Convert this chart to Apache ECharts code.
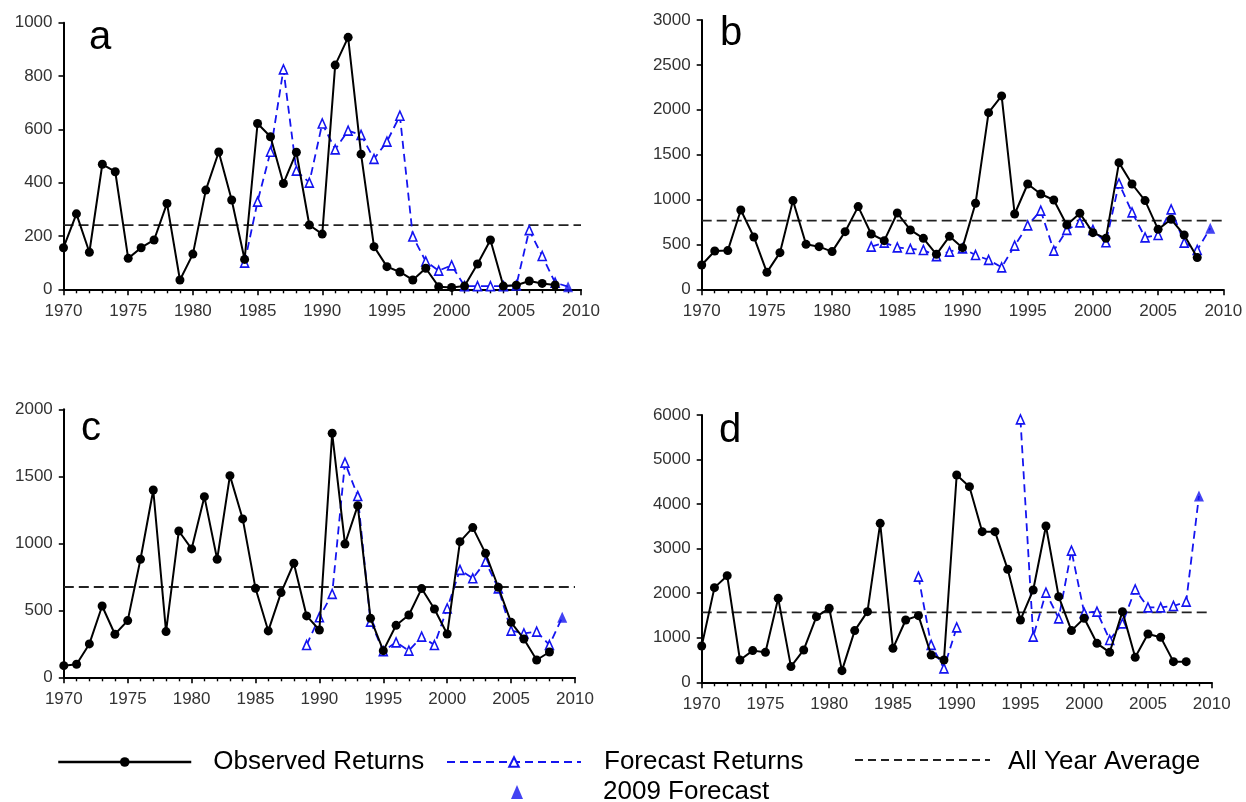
<!DOCTYPE html>
<html>
<head>
<meta charset="utf-8">
<script src="https://cdn.jsdelivr.net/npm/echarts@6/dist/echarts.min.js"></script>
<style>
  html, body { margin: 0; padding: 0; background: #fff; }
  #chart { width: 1246px; height: 802px; }
</style>
</head>
<body>
<div id="chart"></div>
<script>
// Annual returns, 1970-2008 (observed), forecasts and all-year averages per stock
const firstYear = 1970;
const lastYear = 2010;

// Panel a
const obsA = [156, 283, 139, 469, 441, 116, 156, 185, 322, 35,
              132, 372, 515, 335, 112, 622, 572, 397, 514, 241,
              207, 841, 945, 507, 160, 85, 65, 35, 79, 10,
              7, 12, 95, 185, 12, 15, 31, 22, 16];
const fcStartA = 1984;
const fcA = [100, 329, 516, 825, 445, 400, 622, 525, 595, 579, 489, 554, 651,
             198, 105, 70, 90, 12, 12, 12, 12, 15, 222, 125, 25];
const fc2009A = 10;
const avgA = 241;

// Panel b
const obsB = [271, 427, 431, 884, 583, 189, 408, 988, 501, 475,
              420, 642, 921, 616, 542, 850, 661, 568, 390, 590,
              464, 958, 1968, 2154, 839, 1173, 1062, 995, 717, 847,
              631, 568, 1411, 1173, 988, 668, 780, 605, 353];
const fcStartB = 1983;
const fcB = [475, 520, 468, 449, 438, 370, 420, 457, 382, 327, 245, 486, 713,
             876, 431, 661, 746, 661, 524, 1181, 858, 579, 605, 891, 520, 438];
const fc2009B = 680;
const avgB = 765;

// Panel c
const obsC = [87, 97, 249, 532, 321, 423, 881, 1398, 341, 1092,
              958, 1348, 881, 1505, 1182, 664, 346, 632, 851, 458,
              353, 1821, 995, 1281, 440, 199, 388, 465, 662, 510,
              323, 1012, 1117, 925, 672, 410, 286, 129, 189];
const fcStartC = 1989;
const fcC = [241, 448, 622, 1602, 1353, 415, 195, 261, 199, 303, 241, 515,
             801, 739, 863, 664, 348, 328, 341, 241];
const fc2009C = 448;
const avgC = 674;

// Panel d
const obsD = [815, 2125, 2394, 501, 711, 673, 1885, 352, 726, 1474,
              1661, 262, 1160, 1586, 3568, 763, 1399, 1496, 613, 501,
              4653, 4391, 3381, 3381, 2536, 1399, 2072, 3509, 1923, 1160,
              1436, 875, 673, 1586, 561, 1085, 1010, 464, 464];
const fcStartD = 1987;
const fcD = [2371, 838, 314, 1234, null, null, null, null, 5902, 1025, 2012,
             1436, 2955, 1560, 1586, 950, 1324, 2087, 1683, 1683, 1713, 1810];
const fc2009D = 4182;
const avgD = 1571;

// Axis limits and tick steps
const yMax = [1000, 3000, 2000, 6000];
const yStep = [200, 500, 500, 1000];
const panelLetters = ['a', 'b', 'c', 'd'];

const panels = [
  { obs: obsA, fcStart: fcStartA, fc: fcA, fc2009: fc2009A, avg: avgA },
  { obs: obsB, fcStart: fcStartB, fc: fcB, fc2009: fc2009B, avg: avgB },
  { obs: obsC, fcStart: fcStartC, fc: fcC, fc2009: fc2009C, avg: avgC },
  { obs: obsD, fcStart: fcStartD, fc: fcD, fc2009: fc2009D, avg: avgD }
];

// Plot-area boxes (px)
const grids = [
  { left: 63.5, top: 22.7, width: 517.5, height: 266.6 },
  { left: 701.7, top: 20, width: 521.6, height: 269.3 },
  { left: 63.8, top: 409.3, width: 511.2, height: 268 },
  { left: 701.7, top: 415, width: 510, height: 267.3 }
];
// panel letter placement: [left, top]
const letterPos = [[89, 18], [720, 14], [81, 409], [719, 411]];

const BLUE = '#1414f0';
const FONT = 'Liberation Sans, Arial, sans-serif';

const xAxes = [], yAxes = [], series = [], graphics = [];

panels.forEach((p, i) => {
  xAxes.push({
    type: 'value', gridIndex: i, min: firstYear, max: lastYear, interval: 5,
    axisLine: { lineStyle: { color: '#000', width: 2 } },
    axisTick: { length: 6, lineStyle: { color: '#000', width: 1.6 } },
    minorTick: { show: true, splitNumber: 5, length: 4, lineStyle: { color: '#000', width: 1.4 } },
    splitLine: { show: false },
    axisLabel: { fontSize: 17, color: '#333', fontFamily: FONT, margin: 14, formatter: v => String(v) }
  });
  yAxes.push({
    type: 'value', gridIndex: i, min: 0, max: yMax[i], interval: yStep[i],
    axisLine: { show: true, lineStyle: { color: '#000', width: 2 } },
    axisTick: { show: true, length: 5, lineStyle: { color: '#000', width: 1.6 } },
    splitLine: { show: false },
    axisLabel: { fontSize: 17, color: '#333', fontFamily: FONT, margin: 11, formatter: v => String(v) }
  });

  // all-year average
  series.push({
    name: 'All Year Average', type: 'line', xAxisIndex: i, yAxisIndex: i,
    data: [[firstYear, p.avg], [lastYear, p.avg]],
    symbol: 'none', silent: true, z: 1,
    lineStyle: { color: '#222', width: 1.8, type: [10, 5] },
    itemStyle: { color: '#222' }
  });

  // forecast returns, dashed, joined to the 2009 forecast
  const fcData = p.fc.map((v, k) => [p.fcStart + k, v === null ? '-' : v]);
  fcData.push({ value: [2009, p.fc2009], symbol: 'none' });
  series.push({
    name: 'Forecast Returns', type: 'line', xAxisIndex: i, yAxisIndex: i,
    data: fcData, connectNulls: false, z: 2,
    symbol: 'triangle', symbolSize: [8, 9], showAllSymbol: true,
    lineStyle: { color: BLUE, width: 1.8, type: [8, 5] },
    itemStyle: { color: '#fff', borderColor: BLUE, borderWidth: 1.6 }
  });

  // observed returns
  series.push({
    name: 'Observed Returns', type: 'line', xAxisIndex: i, yAxisIndex: i,
    data: p.obs.map((v, k) => [firstYear + k, v]), z: 3,
    symbol: 'circle', symbolSize: 9, showAllSymbol: true,
    lineStyle: { color: '#000', width: 2 },
    itemStyle: { color: '#000' }
  });

  // 2009 forecast point
  series.push({
    name: '2009 Forecast', type: 'scatter', xAxisIndex: i, yAxisIndex: i,
    data: [[2009, p.fc2009]], z: 4,
    symbol: 'triangle', symbolSize: [10, 11],
    itemStyle: { color: BLUE }
  });

  graphics.push({
    type: 'text', left: letterPos[i][0], top: letterPos[i][1],
    style: { text: panelLetters[i], font: '40px ' + FONT, fill: '#000' }
  });
});

const legendText = { fontSize: 26, color: '#000', fontFamily: FONT };
const legends = [
  { data: ['Observed Returns'], left: 57, top: 749, itemWidth: 133, itemHeight: 12,
    lineStyle: { width: 2.5 },
    textStyle: Object.assign({ padding: [0, 0, 0, 17] }, legendText) },
  { data: ['Forecast Returns'], left: 446, top: 749, itemWidth: 134, itemHeight: 12,
    textStyle: Object.assign({ padding: [0, 0, 0, 18] }, legendText) },
  // the key's dashed stroke for this entry is drawn as a graphic line below
  { data: [{ name: 'All Year Average', icon: 'rect' }], left: 855, top: 749,
    itemWidth: 135, itemHeight: 12, itemStyle: { opacity: 0 },
    textStyle: Object.assign({ padding: [0, 0, 0, 13] }, legendText) },
  { data: [{ name: '2009 Forecast', icon: 'triangle' }], left: 511, top: 779, itemWidth: 12, itemHeight: 14,
    textStyle: Object.assign({ padding: [0, 0, 0, 75] }, legendText) }
].map(l => Object.assign({ orient: 'horizontal', padding: 0, selectedMode: false }, l));

graphics.push({
  type: 'line', silent: true,
  shape: { x1: 855, y1: 760, x2: 990, y2: 760 },
  style: { stroke: '#222', lineWidth: 2, lineDash: [8, 5] }
});

const chart = echarts.init(document.getElementById('chart'), null, { renderer: 'canvas' });
chart.setOption({
  backgroundColor: '#fff',
  animation: false,
  grid: grids.map(g => Object.assign({ outerBoundsMode: 'none', containLabel: false }, g)),
  xAxis: xAxes,
  yAxis: yAxes,
  legend: legends,
  series: series,
  graphic: graphics
});
</script>
</body>
</html>
